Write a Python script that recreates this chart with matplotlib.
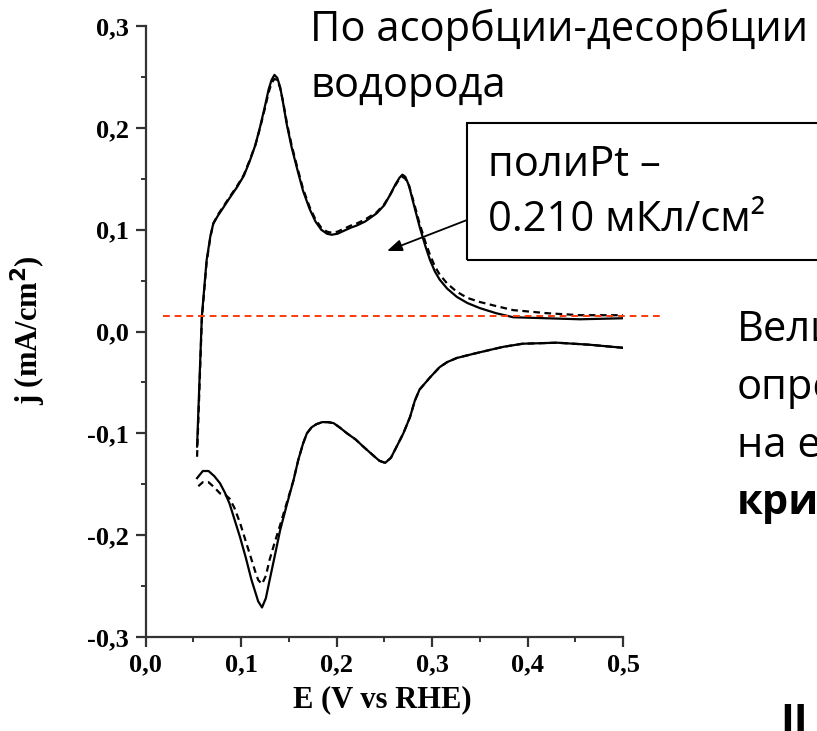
import matplotlib
matplotlib.use("Agg")
import matplotlib.pyplot as plt
from matplotlib.patches import Rectangle
from matplotlib.ticker import FuncFormatter, MultipleLocator

# anodic sweep (upper branch), solid and dashed
anod_E = [0.054, 0.059, 0.064, 0.068, 0.071, 0.076, 0.081, 0.088, 0.096, 0.103, 0.109, 0.115,
          0.120, 0.125, 0.129, 0.132, 0.135, 0.138, 0.141, 0.144, 0.148, 0.153, 0.159, 0.165,
          0.172, 0.178, 0.184, 0.190, 0.195, 0.201, 0.208, 0.215, 0.221, 0.230, 0.242, 0.250,
          0.256, 0.262, 0.266, 0.269, 0.272, 0.276, 0.280, 0.287, 0.293, 0.298, 0.303, 0.308,
          0.316, 0.326, 0.337, 0.350, 0.367, 0.385, 0.420, 0.455, 0.500]
anod_j = [-0.113, 0.015, 0.070, 0.094, 0.106, 0.114, 0.121, 0.131, 0.142, 0.153, 0.167, 0.183,
          0.201, 0.221, 0.238, 0.247, 0.252, 0.249, 0.240, 0.225, 0.203, 0.181, 0.159, 0.138,
          0.120, 0.108, 0.100, 0.096, 0.095, 0.096, 0.099, 0.102, 0.104, 0.108, 0.116, 0.124,
          0.134, 0.145, 0.151, 0.154, 0.152, 0.143, 0.128, 0.103, 0.084, 0.070, 0.059, 0.051,
          0.042, 0.034, 0.028, 0.023, 0.018, 0.014, 0.013, 0.012, 0.013]
anod_j_dash = [-0.123, 0.012, 0.068, 0.093, 0.106, 0.115, 0.122, 0.132, 0.143, 0.154, 0.168, 0.183,
               0.200, 0.219, 0.235, 0.244, 0.248, 0.247, 0.239, 0.226, 0.205, 0.183, 0.161, 0.140,
               0.122, 0.110, 0.102, 0.098, 0.097, 0.098, 0.101, 0.104, 0.106, 0.110, 0.117, 0.125,
               0.134, 0.144, 0.150, 0.152, 0.150, 0.143, 0.130, 0.106, 0.088, 0.075, 0.064, 0.056,
               0.047, 0.039, 0.033, 0.029, 0.025, 0.021, 0.018, 0.016, 0.016]

# cathodic sweep (lower branch)
cath_E = [0.500, 0.465, 0.431, 0.395, 0.375, 0.361, 0.343, 0.326, 0.316, 0.308, 0.298, 0.287,
          0.282, 0.277, 0.270, 0.263, 0.257, 0.251, 0.245, 0.240, 0.234, 0.228, 0.220, 0.211,
          0.203, 0.197, 0.191, 0.185, 0.179, 0.174, 0.169, 0.165, 0.160, 0.155, 0.148, 0.141,
          0.135, 0.130, 0.126, 0.122, 0.118, 0.115, 0.111, 0.105, 0.099, 0.093, 0.088, 0.083,
          0.078, 0.072, 0.066, 0.060, 0.054]
cath_j = [-0.016, -0.013, -0.011, -0.012, -0.015, -0.018, -0.022, -0.026, -0.030, -0.035,
          -0.045, -0.057, -0.068, -0.084, -0.100, -0.113, -0.124, -0.129, -0.127, -0.123,
          -0.118, -0.113, -0.106, -0.100, -0.094, -0.090, -0.089, -0.089, -0.091, -0.094,
          -0.100, -0.110, -0.126, -0.146, -0.170, -0.195, -0.222, -0.244, -0.262, -0.271,
          -0.265, -0.256, -0.244, -0.222, -0.202, -0.184, -0.169, -0.158, -0.149, -0.142,
          -0.137, -0.137, -0.144]
cath_j_dash = [-0.016, -0.013, -0.011, -0.012, -0.015, -0.018, -0.022, -0.026, -0.030, -0.035,
               -0.045, -0.057, -0.068, -0.084, -0.100, -0.113, -0.124, -0.129, -0.127, -0.123,
               -0.118, -0.113, -0.106, -0.100, -0.094, -0.090, -0.089, -0.089, -0.091, -0.094,
               -0.100, -0.110, -0.126, -0.146, -0.168, -0.190, -0.208, -0.224, -0.240, -0.248,
               -0.244, -0.236, -0.224, -0.206, -0.188, -0.173, -0.164, -0.160, -0.159, -0.153,
               -0.148, -0.148, -0.153]

baseline_E = [0.018, 0.539]
baseline_j = [0.0152, 0.0152]

x_ticks = [0.0, 0.1, 0.2, 0.3, 0.4, 0.5]
y_ticks = [-0.3, -0.2, -0.1, 0.0, 0.1, 0.2, 0.3]

title_lines = ["По асорбции-десорбции", "водорода"]
box_lines = ["полиPt –", "0.210 мКл/см²"]
side_lines = ["Вели", "опре", "на е"]
side_bold = "крис"


def comma(v, pos):
    return f"{v:.1f}".replace(".", ",").replace("-0,0", "0,0")


W, H = 817, 731
fig = plt.figure(figsize=(W / 100, H / 100), dpi=100)
ax = fig.add_axes([145.5 / W, 1 - 637 / H, (623 - 145.5) / W, (637 - 26) / H])

ax.plot(anod_E, anod_j, color="black", lw=1.6, solid_joinstyle="round")
ax.plot(anod_E, anod_j_dash, color="black", lw=1.6, ls=(0, (3, 2)))
ax.plot(cath_E, cath_j, color="black", lw=1.6, solid_joinstyle="round")
ax.plot(cath_E, cath_j_dash, color="black", lw=1.6, ls=(0, (3, 2)))
ax.plot(baseline_E, baseline_j, color="#FF3A0A", lw=1.4, ls=(0, (3.5, 2.5)), clip_on=False)

ax.set_xlim(0, 0.5)
ax.set_ylim(-0.3, 0.3)
ax.set_xticks(x_ticks)
ax.set_yticks(y_ticks)
ax.xaxis.set_minor_locator(MultipleLocator(0.05))
ax.yaxis.set_minor_locator(MultipleLocator(0.05))
ax.xaxis.set_major_formatter(FuncFormatter(comma))
ax.yaxis.set_major_formatter(FuncFormatter(comma))
for s in ["top", "right"]:
    ax.spines[s].set_visible(False)
for s in ["left", "bottom"]:
    ax.spines[s].set_linewidth(1.6)
    ax.spines[s].set_color("#333333")

serif = {"family": "Liberation Serif", "weight": "bold"}
ax.tick_params(which="major", length=7, width=1.6, color="#333333", pad=5)
ax.tick_params(which="minor", length=3.5, width=1.4, color="#333333")
for lab in ax.get_xticklabels() + ax.get_yticklabels():
    lab.set_fontfamily("Liberation Serif")
    lab.set_fontweight("bold")
    lab.set_fontsize(19)

fig.text(382 / W, 1 - 700 / H, "E (V vs RHE)", ha="center", va="center", fontsize=22, **serif)
fig.text(28 / W, 1 - 330 / H, "j (mA/cm$^\\mathbf{2}$)", ha="center", va="center",
         rotation=90, fontsize=22, **serif)

sans = "Open Sans"
fig.text(310 / W, 1 - 30 / H, title_lines[0], ha="left", va="center", fontsize=30, family=sans)
fig.text(310 / W, 1 - 86 / H, title_lines[1], ha="left", va="center", fontsize=30, family=sans)

fig.patches.append(Rectangle((467 / W, 1 - 260 / H), 400 / W, 137 / H,
                             transform=fig.transFigure, fill=False, ec="black", lw=1.5))
fig.text(488 / W, 1 - 165 / H, box_lines[0], ha="left", va="center", fontsize=30, family=sans)
fig.text(488 / W, 1 - 220 / H, box_lines[1], ha="left", va="center", fontsize=30, family=sans)

ax.annotate("", xy=(387 / W, 1 - 251 / H), xytext=(467 / W, 1 - 220 / H),
            xycoords="figure fraction", textcoords="figure fraction",
            arrowprops=dict(arrowstyle="-|>,head_length=0.9,head_width=0.35",
                            color="black", lw=1.3, shrinkA=0, shrinkB=0))

for i, t in enumerate(side_lines):
    fig.text(737 / W, 1 - (330 + 58 * i) / H, t, ha="left", va="center", fontsize=30, family=sans)
fig.text(737 / W, 1 - 503 / H, side_bold, ha="left", va="center", fontsize=30,
         family=sans, weight="bold")

fig.text(794 / W, 1 - 703 / H, "II", ha="center", va="top", fontsize=30,
         family=sans, weight="bold")

fig.savefig("out.png", dpi=100)
